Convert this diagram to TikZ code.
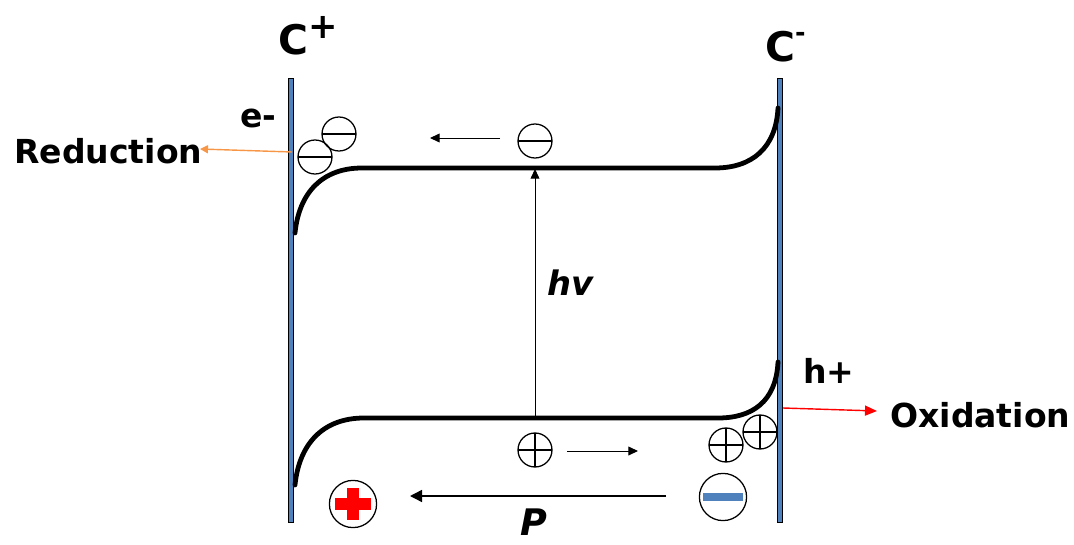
\documentclass[tikz,border=0pt]{standalone}
\usepackage{fontspec}
\setmainfont{DejaVu Sans}
\usetikzlibrary{arrows.meta, positioning}
\definecolor{plateblue}{RGB}{79, 129, 189}
\definecolor{redoxorange}{RGB}{247, 150, 70}
\definecolor{crossred}{RGB}{255, 0, 0}
\tikzset{
  electrode/.style={
    draw=black,
    fill=plateblue,
    line width=0.7pt
  },
  band/.style={
    line width=3.4pt,
    line cap=round
  },
  charge/.style={
    circle,
    draw,
    line width=0.9pt,
    minimum size=0.85cm,
    inner sep=0pt
  },
  electron/.style={
    charge,
    path picture={
      \draw[line width=0.9pt] (path picture bounding box.west) -- (path picture bounding box.east);
    }
  },
  hole/.style={
    charge,
    path picture={
      \draw[line width=0.9pt] (path picture bounding box.west) -- (path picture bounding box.east)
        (path picture bounding box.north) -- (path picture bounding box.south);
    }
  },
  pole/.style={
    circle,
    draw,
    line width=0.9pt,
    minimum size=1.18cm,
    inner sep=0pt
  },
  label text/.style={
    inner sep=0pt,
    anchor=base west,
    font=\bfseries\fontsize{23.5}{23.5}\selectfont
  },
  flow/.style={
    -{Triangle[length=0.24cm, width=0.22cm]},
    line width=0.7pt
  }
}

\begin{document}
\begin{tikzpicture}[x=0.025cm, y=-0.025cm]
  \useasboundingbox (0, 0) rectangle (1074, 545);

  % electrodes
  \draw[electrode] (288, 78) rectangle (293, 522);
  \draw[electrode] (777, 78) rectangle (782, 522);
  \node[label text, font=\bfseries\fontsize{29}{29}\selectfont] (cplus) at (278, 55)
    {C\raisebox{0.4em}{\fontsize{25}{25}\selectfont +}};
  \node[label text, font=\bfseries\fontsize{29}{29}\selectfont] (cminus) at (765, 62)
    {C\raisebox{0.5em}{\fontsize{18}{18}\selectfont -}};

  % bands
  \draw[band] (295, 233) .. controls (299, 193) and (322, 168) .. (362, 168)
    -- (715, 168) .. controls (752, 168) and (776, 148) .. (778, 108);
  \draw[band] (295, 485) .. controls (299, 445) and (322, 418) .. (364, 418)
    -- (718, 418) .. controls (752, 418) and (776, 402) .. (778, 362);

  % photo excitation
  \coordinate (vb) at (535, 418);
  \coordinate (cb) at (535, 169);
  \draw[flow, line width=0.6pt] (vb) -- (cb);
  \node[label text, font=\bfseries\itshape\fontsize{24}{24}\selectfont] (hv) at (547, 295) {hv};

  % charges
  \node[electron] (e1) at (339, 134) {};
  \node[electron] (e2) at (315, 157) {};
  \node[electron] (e3) at (535, 141) {};
  \node[hole] (h1) at (535, 450) {};
  \node[hole] (h2) at (726, 445) {};
  \node[hole] (h3) at (760, 432) {};
  \coordinate (e3l) at (500, 138);
  \coordinate (e3t) at (430, 138);
  \coordinate (h1r) at (567, 451);
  \coordinate (h1t) at (638, 451);
  \draw[flow] (e3l) -- (e3t);
  \draw[flow] (h1r) -- (h1t);

  % polarisation
  \node[pole, path picture={
      \fill[crossred] ([shift={(-0.44cm, -0.14cm)}]path picture bounding box.center)
        rectangle ([shift={(0.44cm, 0.14cm)}]path picture bounding box.center);
      \fill[crossred] ([shift={(-0.14cm, -0.4cm)}]path picture bounding box.center)
        rectangle ([shift={(0.14cm, 0.4cm)}]path picture bounding box.center);
    }] (pplus) at (353, 504) {};
  \node[pole, path picture={
      \fill[plateblue] ([shift={(-0.5cm, -0.09cm)}]path picture bounding box.center)
        rectangle ([shift={(0.5cm, 0.09cm)}]path picture bounding box.center);
    }] (pminus) at (723, 497) {};
  \coordinate (ptail) at (666, 496);
  \coordinate (phead) at (410, 496);
  \draw[flow, line width=1pt, -{Triangle[length=0.3cm, width=0.3cm]}] (ptail) -- (phead);
  \node[label text, font=\bfseries\itshape\fontsize{26}{26}\selectfont] (pol) at (520, 535) {P};

  % redox
  \node[label text] (red) at (14, 163) {Reduction};
  \node[label text] (elec) at (240, 128) {e-};
  \node[label text] (ox) at (890, 427) {Oxidation};
  \node[label text] (hplus) at (803, 383) {h+};
  \coordinate (redfrom) at (292, 152);
  \coordinate (redto) at (200, 149);
  \coordinate (oxfrom) at (783, 408);
  \coordinate (oxto) at (877, 411);
  \draw[flow, redoxorange, line width=1pt, -{Triangle[length=0.2cm, width=0.2cm]}] (redfrom) -- (redto);
  \draw[flow, crossred, line width=1pt, -{Triangle[length=0.3cm, width=0.25cm]}] (oxfrom) -- (oxto);
\end{tikzpicture}
\end{document}
